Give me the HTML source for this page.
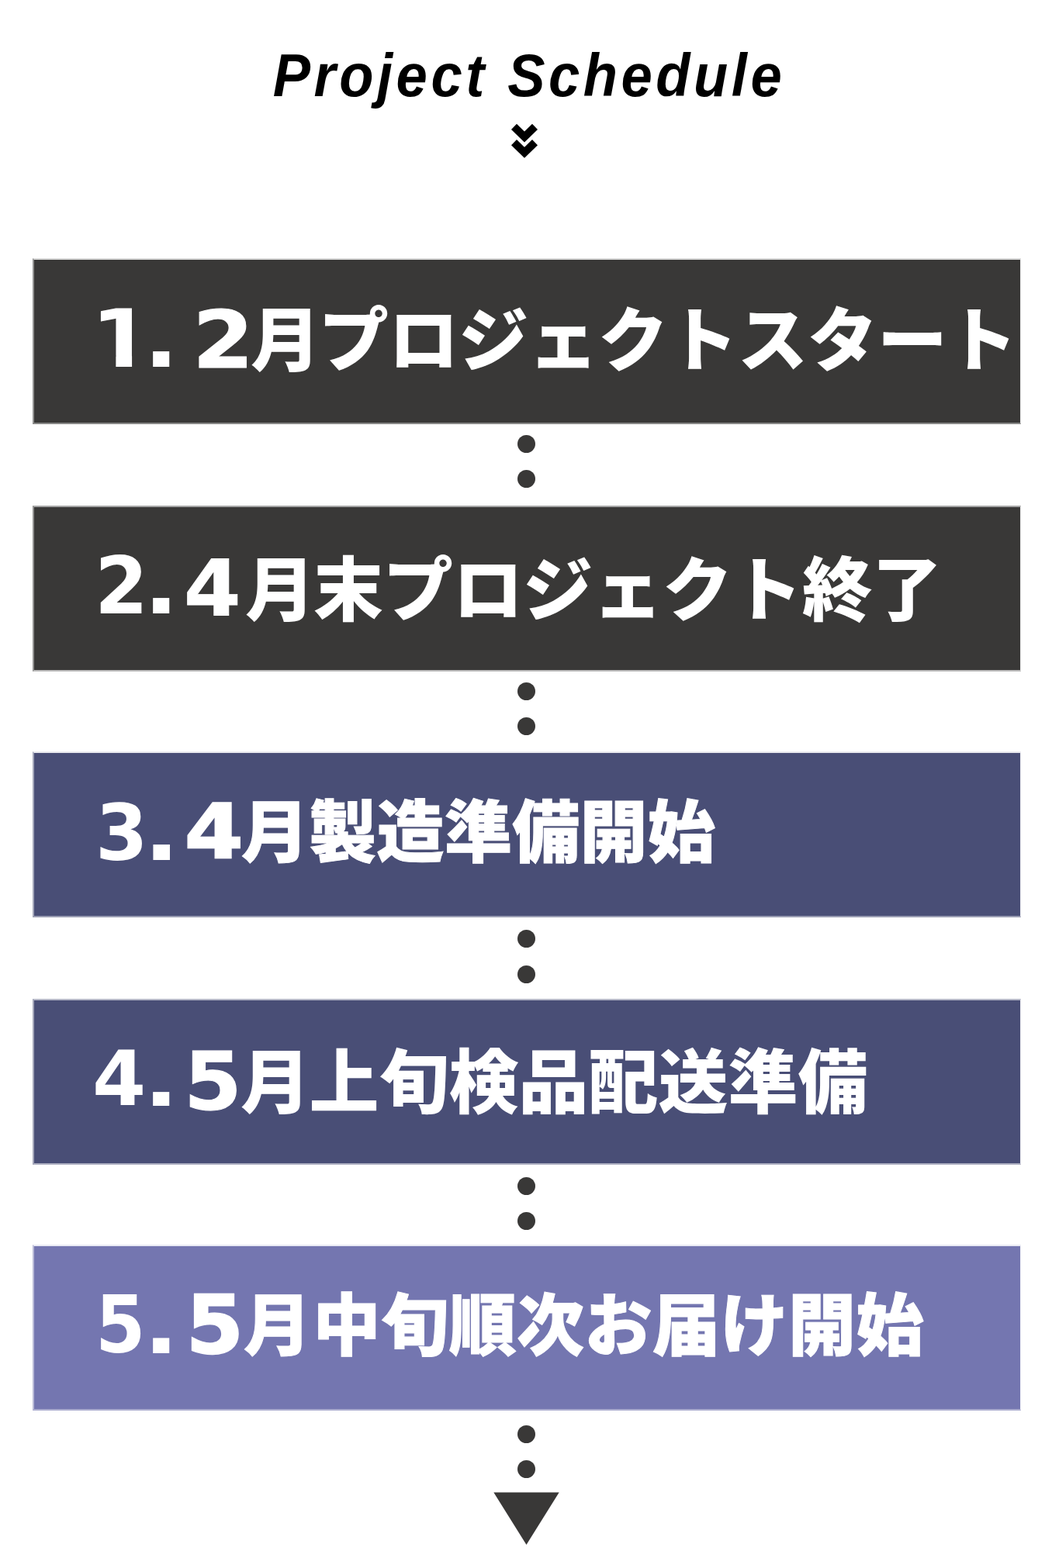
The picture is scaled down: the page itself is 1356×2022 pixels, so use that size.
<!DOCTYPE html>
<html lang="ja">
<head>
<meta charset="utf-8">
<title>Project Schedule</title>
<style>
html,body{margin:0;padding:0;background:#fff;}
body{width:1356px;height:2022px;position:relative;overflow:hidden;font-family:"Liberation Sans","Noto Sans CJK JP",sans-serif;}
.title{position:absolute;left:3px;top:52px;width:1358px;margin:0;text-align:center;font-family:"Liberation Sans",sans-serif;font-weight:700;font-style:italic;font-size:77px;line-height:90px;color:#000;white-space:nowrap;letter-spacing:4.8px;word-spacing:1px;transform:scaleX(0.94);transform-origin:50% 50%;}
.chev{position:absolute;left:646px;top:150px;}
.steps{list-style:none;margin:0;padding:0;}
.box{position:absolute;left:42px;width:1271px;height:210px;margin:0;padding:0;border-style:solid;border-width:2px 1px 2px 2px;background-clip:padding-box;}
.box p{margin:0;}
.n,.d,.g,.c{position:absolute;display:block;color:#fff;white-space:nowrap;transform-origin:0 0;}
.n,.d,.g{font-family:"DejaVu Sans","Liberation Sans",sans-serif;font-weight:700;font-size:100px;line-height:100px;}
.c{font-family:"Liberation Sans","Noto Sans CJK JP",sans-serif;font-weight:900;}
.dot{position:absolute;left:622.8px;width:23px;height:23px;border-radius:50%;background:#393837;}
.tri{position:absolute;left:636px;top:1924px;}
</style>
</head>
<body>
<header>
<h1 class="title">Project Schedule</h1>
<svg class="chev" width="60" height="60" viewBox="0 0 60 60"><path d="M16.5 13.3 L30 26.5 L43.5 13.3 M16.5 33.6 L30 46.8 L43.5 33.6" fill="none" stroke="#000" stroke-width="10" stroke-linejoin="miter" stroke-linecap="butt"/></svg>
</header>
<main>
<ol class="steps">
<li class="box" style="top:333px;background-color:rgb(57,56,55);border-color:rgba(57,56,55,0.2) rgba(57,56,55,0.1) rgba(57,56,55,0.6) rgba(57,56,55,0.55)"><p><span class="n" style="left:73.29px;top:51.70px;transform:scale(1.1480,1.0274);clip-path:polygon(0 0,46.25px 0,46.25px 100px,28.2px 100px,28.2px 69.8px,0 69.8px)">1</span><span class="d" style="left:141.06px;top:49.58px;transform:scale(1.1944,1.0526);">.</span> <span class="g" style="left:203.53px;top:52.82px;transform:scale(1.1389,1.0197);-webkit-text-stroke:1px #fff;">2</span><span class="c" style="left:277.00px;top:60.00px;font-size:90px;line-height:90px;letter-spacing:0px;"><span style="position:relative;left:2px">月</span>プロジェクトスタート</span></p><i class="dot" style="top:226.0px"></i><i class="dot" style="top:271.4px"></i></li>
<li class="box" style="top:652px;background-color:rgb(57,56,55);border-color:rgba(57,56,55,0.45) rgba(57,56,55,0.1) rgba(57,56,55,0.33) rgba(57,56,55,0.55)"><p><span class="n" style="left:77.58px;top:51.86px;transform:scale(0.9906,1.0135);">2</span><span class="d" style="left:141.06px;top:48.58px;transform:scale(1.1944,1.0526);">.</span> <span class="g" style="left:192.77px;top:55.46px;transform:scale(1.0565,0.9946);-webkit-text-stroke:1px #fff;">4</span><span class="c" style="left:270.00px;top:63.00px;font-size:90px;line-height:90px;letter-spacing:0px;"><span style="position:relative;left:2px">月</span>末プロジェクト終了</span></p><i class="dot" style="top:226.0px"></i><i class="dot" style="top:271.2px"></i></li>
<li class="box" style="top:969px;background-color:rgb(73,78,118);border-color:rgba(73,78,118,0.12) rgba(73,78,118,0.1) rgba(73,78,118,0.55) rgba(73,78,118,0.5)"><p><span class="n" style="left:78.69px;top:53.71px;transform:scale(0.9727,0.9987);">3</span><span class="d" style="left:140.78px;top:49.58px;transform:scale(1.2222,1.0526);">.</span> <span class="g" style="left:194.34px;top:54.39px;transform:scale(1.0857,0.9605);-webkit-text-stroke:2.5px #fff;">4</span><span class="c" style="left:267.00px;top:60.00px;font-size:87px;line-height:87px;letter-spacing:0.3px;-webkit-text-stroke:1px #fff;"><span style="position:relative;left:0px">月</span>製造準備開始</span></p><i class="dot" style="top:228.3px"></i><i class="dot" style="top:273.6px"></i></li>
<li class="box" style="top:1288px;background-color:rgb(73,78,118);border-color:rgba(73,78,118,0.4) rgba(73,78,118,0.1) rgba(73,78,118,0.45) rgba(73,78,118,0.5)"><p><span class="n" style="left:75.32px;top:52.15px;transform:scale(0.9951,0.9865);">4</span><span class="d" style="left:141.06px;top:56.42px;transform:scale(1.1944,0.9474);">.</span> <span class="g" style="left:192.97px;top:54.11px;transform:scale(1.0750,1.0395);-webkit-text-stroke:1px #fff;">5</span><span class="c" style="left:264.50px;top:62.00px;font-size:90px;line-height:90px;letter-spacing:0px;"><span style="position:relative;left:1.5px">月</span>上旬検品配送準備</span></p><i class="dot" style="top:228.0px"></i><i class="dot" style="top:273.3px"></i></li>
<li class="box" style="top:1605px;background-color:rgb(116,118,176);border-color:rgba(116,118,176,0.15) rgba(116,118,176,0.1) rgba(116,118,176,0.6) rgba(116,118,176,0.5)"><p><span class="n" style="left:78.58px;top:51.91px;transform:scale(0.9273,1.0081);">5</span><span class="d" style="left:141.06px;top:50.95px;transform:scale(1.1944,1.0316);">.</span> <span class="g" style="left:196.14px;top:52.12px;transform:scale(1.0603,1.0276);-webkit-text-stroke:2.5px #fff;">5</span><span class="c" style="left:272.00px;top:60.00px;font-size:87px;line-height:87px;letter-spacing:0.5px;-webkit-text-stroke:1px #fff;"><span style="position:relative;left:-2px">月</span>中旬順次お届け開始</span></p><i class="dot" style="top:230.5px"></i><i class="dot" style="top:275.6px"></i></li>
</ol>
<svg class="tri" width="86" height="70" viewBox="0 0 86 70"><path d="M0.3 0.5 L84.7 0.5 L42.5 67.9 Z" fill="#393837"/></svg>
</main>
</body>
</html>
